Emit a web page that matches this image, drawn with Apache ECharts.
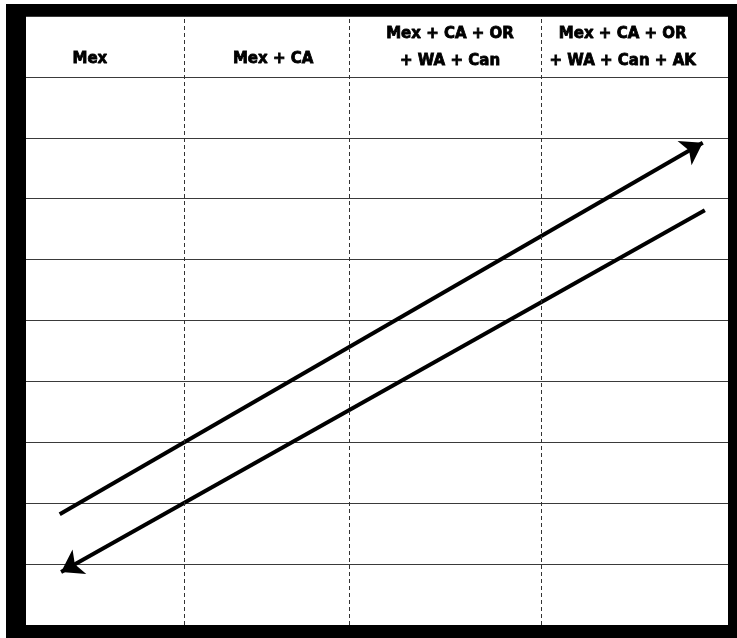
<!DOCTYPE html>
<html>
<head>
<meta charset="utf-8">
<script src="https://cdn.jsdelivr.net/npm/echarts@6/dist/echarts.min.js"></script>
<style>
  html, body { margin: 0; padding: 0; background: #fff; }
  #frame { position: absolute; left: 6px; top: 4px; width: 731px; height: 634px; background: #000; }
  #chart { position: absolute; left: 26px; top: 16px; width: 702px; height: 609px; background: #fff; }
</style>
</head>
<body>
<div id="frame"></div>
<div id="chart"></div>
<script>
// column headers (x in % of width, y in row units, 10 rows total)
var headers = ['Mex', 'Mex + CA', 'Mex + CA + OR\n+ WA + Can', 'Mex + CA + OR\n+ WA + Can + AK'];
var headerX = [9.1, 35.2, 60.4, 85.0];
var headerY = [9.30, 9.30, 9.48, 9.48];
// dashed column dividers
var columnEdges = [22.5, 46.0, 73.4];
// arrows: [x0, y0, x1, y1]
var arrowUp = [4.8, 1.82, 96.4, 7.92];
var arrowDown = [96.7, 6.81, 5.0, 0.87];

var myChart = echarts.init(document.getElementById('chart'));

var option = {
  animation: false,
  backgroundColor: '#fff',
  grid: { left: 0, right: 0, top: 0, bottom: -2 },
  xAxis: {
    type: 'value',
    min: 0,
    max: 100,
    axisLine: { show: false },
    axisTick: { show: false },
    axisLabel: { show: false },
    splitLine: { show: false }
  },
  yAxis: {
    type: 'value',
    min: 0,
    max: 10,
    interval: 1,
    axisLine: { show: false },
    axisTick: { show: false },
    axisLabel: { show: false },
    splitLine: { show: true, lineStyle: { color: '#3a3a3a', width: 1 } }
  },
  series: [
    {
      type: 'scatter',
      symbolSize: 0,
      itemStyle: { opacity: 1 },
      data: headers.map(function (h, i) { return { value: [headerX[i], headerY[i]], name: h }; }),
      label: {
        show: true,
        position: 'inside',
        formatter: '{b}',
        color: '#000',
        opacity: 1,
        fontFamily: 'DejaVu Sans',
        fontWeight: 'bold',
        fontSize: 15,
        lineHeight: 27,
        align: 'center',
        textBorderColor: '#000',
        textBorderWidth: 0.8
      },
      markLine: {
        silent: true,
        symbol: 'none',
        label: { show: false },
        lineStyle: { color: '#333', width: 1, type: [4, 3] },
        data: columnEdges.map(function (x) { return { xAxis: x }; })
      }
    },
    {
      type: 'lines',
      coordinateSystem: 'cartesian2d',
      symbol: ['none', 'arrow'],
      symbolSize: 21,
      lineStyle: { color: '#000', width: 4, opacity: 1 },
      data: [
        { coords: [[arrowUp[0], arrowUp[1]], [arrowUp[2], arrowUp[3]]] },
        { coords: [[arrowDown[0], arrowDown[1]], [arrowDown[2], arrowDown[3]]] }
      ]
    }
  ]
};

myChart.setOption(option);
</script>
</body>
</html>
